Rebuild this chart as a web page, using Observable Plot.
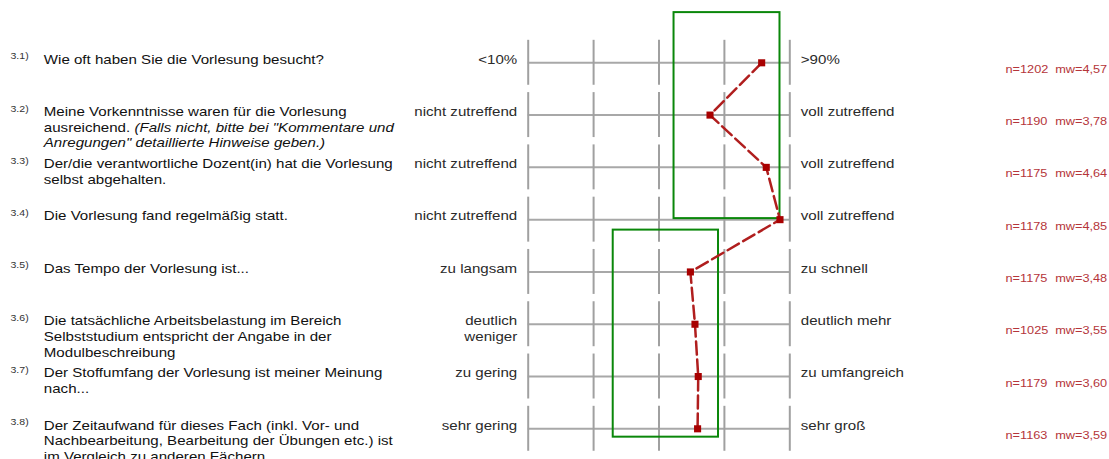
<!DOCTYPE html>
<html><head><meta charset="utf-8">
<script src="https://cdn.jsdelivr.net/npm/d3@7"></script>
<script src="https://cdn.jsdelivr.net/npm/@observablehq/plot@0.6"></script>
<style>html,body{margin:0;padding:0;background:#fff;} #chart svg{display:block;}</style>
</head><body><div id="chart"></div>
<script>
const questionIds = ["3.1)", "3.2)", "3.3)", "3.4)", "3.5)", "3.6)", "3.7)", "3.8)"];
const questions = [
  "Wie oft haben Sie die Vorlesung besucht?",
  "Meine Vorkenntnisse waren für die Vorlesung\nausreichend. (Falls nicht, bitte bei \"Kommentare und\nAnregungen\" detaillierte Hinweise geben.)",
  "Der/die verantwortliche Dozent(in) hat die Vorlesung\nselbst abgehalten.",
  "Die Vorlesung fand regelmäßig statt.",
  "Das Tempo der Vorlesung ist...",
  "Die tatsächliche Arbeitsbelastung im Bereich\nSelbststudium entspricht der Angabe in der\nModulbeschreibung",
  "Der Stoffumfang der Vorlesung ist meiner Meinung\nnach...",
  "Der Zeitaufwand für dieses Fach (inkl. Vor- und\nNachbearbeitung, Bearbeitung der Übungen etc.) ist\nim Vergleich zu anderen Fächern"
];
const leftLabels = ["<10%", "nicht zutreffend", "nicht zutreffend", "nicht zutreffend", "zu langsam", "deutlich\nweniger", "zu gering", "sehr gering"];
const rightLabels = [">90%", "voll zutreffend", "voll zutreffend", "voll zutreffend", "zu schnell", "deutlich mehr", "zu umfangreich", "sehr groß"];
const nValues = [1202, 1190, 1175, 1178, 1175, 1025, 1179, 1163];
const meanValues = [4.57, 3.78, 4.64, 4.85, 3.48, 3.55, 3.60, 3.59];
const scaleValues = [1, 2, 3, 4, 5];
// comparison boxes (scale value range and question range)
const boxX1 = [3.23, 2.30];
const boxX2 = [4.85, 3.91];
const boxRowStart = [0.04, 4.2];
const boxRowEnd = [3.98, 8.16];

const rows = questionIds.map((id, i) => ({
  row: i + 1, id, question: questions[i], left: leftLabels[i], right: rightLabels[i],
  n: nValues[i], mw: meanValues[i]
}));
const gridCells = rows.flatMap(r => scaleValues.map(v => ({row: r.row, v})));
const boxes = boxX1.map((x1, i) => ({x1, x2: boxX2[i], y1: boxRowStart[i], y2: boxRowEnd[i]}));
const fmt = v => v.toFixed(2).replace(".", ",");

const FS = 13.6, LH = 1.16;
const topDy = 0.8 - 0.71 * LH * FS;

const chart = Plot.plot({
  width: 1109, height: 459,
  marginLeft: 527.7, marginRight: 319.7, marginTop: 62.3, marginBottom: 30.7,
  x: {domain: [1, 5], axis: null},
  y: {domain: [1, 8], reverse: true, axis: null},
  style: {fontFamily: "'Liberation Sans', Arial, sans-serif", background: "#fff", overflow: "visible"},
  marks: [
    Plot.ruleY(rows, {y: "row", x1: 1, x2: 5, stroke: "#a8a8a8", strokeWidth: 2}),
    Plot.ruleX(gridCells, {x: "v", y1: d => d.row - 0.43, y2: d => d.row + 0.43, stroke: "#a0a0a0", strokeWidth: 2}),
    Plot.rect(boxes, {x1: "x1", x2: "x2", y1: "y1", y2: "y2", fill: "none", stroke: "#0a870a", strokeWidth: 2}),
    Plot.line(rows, {x: "mw", y: "row", stroke: "#b01e1e", strokeWidth: 2.5, strokeDasharray: "13,5"}),
    Plot.dot(rows, {x: "mw", y: "row", symbol: "square", r: 4, fill: "#a80000", stroke: "none"}),
    Plot.text(rows, {frameAnchor: "left", y: "row", text: "id", textAnchor: "start", dx: -517.7, dy: -3.5, lineAnchor: "bottom", fontSize: 9.5, fill: "#333"}),
    Plot.text(rows, {frameAnchor: "left", y: "row", text: "question", textAnchor: "start", dx: -484.4, dy: topDy, lineAnchor: "top", lineHeight: LH, fontSize: FS, fill: "#111"}),
    Plot.text(rows, {x: 1, y: "row", text: "left", textAnchor: "end", dx: -11, dy: topDy, lineAnchor: "top", lineHeight: LH, fontSize: FS, fill: "#2a2a2a"}),
    Plot.text(rows, {x: 5, y: "row", text: "right", textAnchor: "start", dx: 11, dy: topDy, lineAnchor: "top", lineHeight: LH, fontSize: FS, fill: "#2a2a2a"}),
    Plot.text(rows, {x: 5, y: "row", text: d => "n=" + d.n, textAnchor: "start", dx: 215.7, dy: 10, lineAnchor: "bottom", fontSize: 11.5, fill: "#b5353a"}),
    Plot.text(rows, {x: 5, y: "row", text: d => "mw=" + fmt(d.mw), textAnchor: "end", dx: 317.4, dy: 10, lineAnchor: "bottom", fontSize: 11.5, fill: "#b5353a"})
  ]
});

// italic parts of question 3.2
chart.querySelectorAll("tspan").forEach(ts => {
  const t = ts.textContent;
  if (t.startsWith("ausreichend. ")) {
    ts.textContent = "ausreichend. ";
    const it = document.createElementNS("http://www.w3.org/2000/svg", "tspan");
    it.setAttribute("font-style", "italic");
    it.textContent = t.slice("ausreichend. ".length);
    ts.appendChild(it);
  } else if (t.startsWith("Anregungen\"")) {
    ts.setAttribute("font-style", "italic");
  }
});
// slightly wide lettering, as in the source
chart.querySelectorAll("text").forEach(t => {
  const tr = t.getAttribute("transform");
  if (tr) t.setAttribute("transform", tr + " scale(1.11,1)");
});
document.getElementById("chart").appendChild(chart);
</script>
</body></html>
